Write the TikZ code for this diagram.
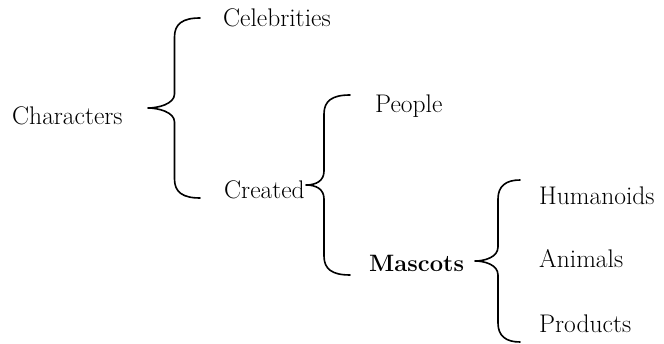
\documentclass[tikz,border=0pt]{standalone}
\usepackage{fontspec}
\tikzset{
  lbl/.style={anchor=base west, inner sep=0pt, font=\fontsize{25.5}{30}\selectfont},
  bracepath/.style={line width=1.6pt, line cap=round, line join=round}
}
% #1 tip x, #2 vertical x, #3 end x, #4 top y, #5 mid y, #6 bottom y (y measured downward)
\newcommand\mybrace[6]{%
  \draw[bracepath] (#3,-#4) .. controls (#2+8,-#4) and (#2,-#4-6) .. (#2,-#4-19)
    -- (#2,-#5+14) .. controls (#2,-#5+4) and (#1+10,-#5) .. (#1,-#5)
    .. controls (#1+10,-#5) and (#2,-#5-4) .. (#2,-#5-14)
    -- (#2,-#6+19) .. controls (#2,-#6+6) and (#2+8,-#6) .. (#3,-#6);}
\begin{document}
\begin{tikzpicture}[x=1pt,y=1pt]
\useasboundingbox[fill=white] (0,0) rectangle (664,-344);
\node[lbl] (characters) at (12,-125) {Characters};
\node[lbl] (celebrities) at (223,-27) {Celebrities};
\node[lbl] (created) at (224,-199) {Created};
\node[lbl] (people) at (375,-113) {People};
\node[lbl, font=\fontsize{23.7}{28}\selectfont\bfseries] (mascots) at (369,-272) {Mascots};
\node[lbl] (humanoids) at (539,-205) {Humanoids};
\node[lbl] (animals) at (539,-268) {Animals};
\node[lbl] (products) at (539,-333) {Products};
\mybrace{148}{174.5}{200}{18}{108}{198}
\mybrace{306}{324}{350}{95}{185}{275}
\mybrace{475}{498}{520}{180}{261}{342}
\end{tikzpicture}
\end{document}
